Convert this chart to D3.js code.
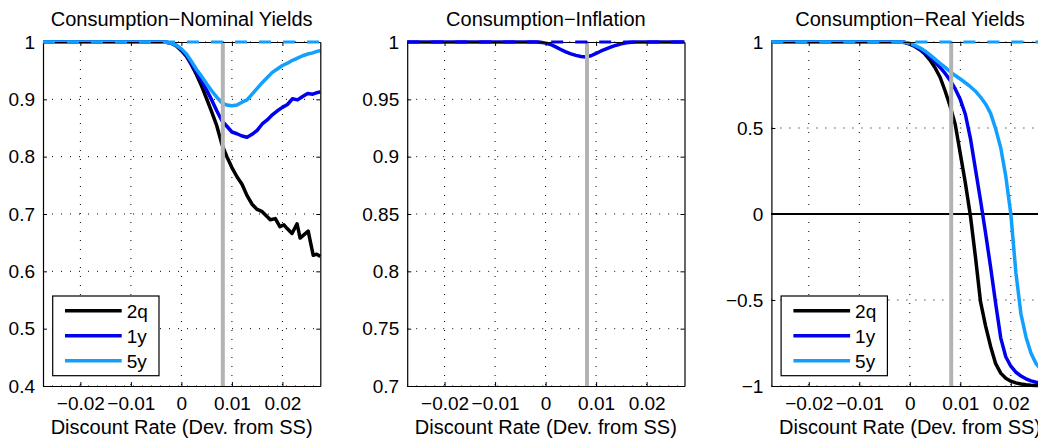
<!DOCTYPE html>
<html>
<head>
<meta charset="utf-8">
<script src="https://cdn.jsdelivr.net/npm/d3@7"></script>
<style>
body { margin: 0; background: #fff; }
text { font-family: "Liberation Sans", Arial, Helvetica, sans-serif; fill: #000; }
</style>
</head>
<body>
<script>
// shared x axis
var xDomain = [-0.0274, 0.0275];
var xTicks = [-0.02, -0.01, 0, 0.01, 0.02];
var xTickLabels = ["\u22120.02", "\u22120.01", "0", "0.01", "0.02"];
var steadyState = 0.0082;

var seriesNames = ["2q", "1y", "5y"];
var seriesColors = ["#000000", "#0000ee", "#12a0ff"];

// panel 1: nominal yields
var nomX = [-0.0274, -0.004, -0.003, -0.002, -0.001, 0, 0.001, 0.002, 0.003, 0.004, 0.005, 0.006, 0.007, 0.008, 0.009, 0.010, 0.011, 0.012, 0.013, 0.014, 0.015, 0.016, 0.017, 0.018, 0.019, 0.020, 0.021, 0.022, 0.023, 0.024, 0.025, 0.026, 0.027, 0.0275];
var nom1y = [1, 1, 0.9995, 0.998, 0.994, 0.987, 0.977, 0.962, 0.947, 0.932, 0.916, 0.899, 0.880, 0.863, 0.853, 0.843, 0.840, 0.836, 0.834, 0.839, 0.846, 0.857, 0.864, 0.873, 0.880, 0.886, 0.891, 0.901, 0.899, 0.905, 0.910, 0.909, 0.912, 0.913];
var nom5y = [1, 1, 0.9995, 0.998, 0.994, 0.988, 0.979, 0.966, 0.952, 0.940, 0.927, 0.915, 0.904, 0.894, 0.890, 0.889, 0.890, 0.895, 0.899, 0.909, 0.919, 0.929, 0.938, 0.947, 0.953, 0.959, 0.963, 0.968, 0.972, 0.976, 0.979, 0.981, 0.984, 0.985];
var nom2qX = [-0.0274, -0.004, -0.003, -0.002, -0.001, 0, 0.001, 0.002, 0.003, 0.004, 0.005, 0.006, 0.007, 0.008, 0.009, 0.010, 0.011, 0.012, 0.013, 0.014, 0.015, 0.016, 0.0168, 0.0176, 0.0186, 0.0195, 0.0203, 0.0209, 0.0219, 0.0229, 0.0235, 0.0243, 0.0251, 0.0261, 0.0268, 0.0275];
var nom2q = [1, 1, 0.9995, 0.998, 0.993, 0.985, 0.975, 0.960, 0.943, 0.923, 0.901, 0.878, 0.854, 0.822, 0.800, 0.781, 0.765, 0.752, 0.732, 0.717, 0.708, 0.704, 0.697, 0.690, 0.692, 0.678, 0.681, 0.675, 0.666, 0.683, 0.658, 0.664, 0.670, 0.628, 0.630, 0.626];
var nomTicks = [0.4, 0.5, 0.6, 0.7, 0.8, 0.9, 1];
var nomTickLabels = ["0.4", "0.5", "0.6", "0.7", "0.8", "0.9", "1"];

// panel 2: inflation
var infX = [-0.0274, -0.002, -0.001, 0, 0.001, 0.002, 0.003, 0.004, 0.005, 0.006, 0.007, 0.008, 0.009, 0.010, 0.011, 0.012, 0.013, 0.014, 0.015, 0.016, 0.017, 0.018, 0.0275];
var inf1y = [1, 1, 0.9998, 0.9990, 0.9978, 0.9957, 0.9935, 0.9914, 0.9897, 0.9883, 0.9873, 0.9870, 0.9880, 0.9900, 0.9922, 0.9940, 0.9957, 0.9972, 0.9984, 0.9993, 0.9998, 1, 1];
var infTicks = [0.7, 0.75, 0.8, 0.85, 0.9, 0.95, 1];
var infTickLabels = ["0.7", "0.75", "0.8", "0.85", "0.9", "0.95", "1"];

// panel 3: real yields
var realX = [-0.0274, -0.002, -0.001, 0, 0.001, 0.002, 0.003, 0.004, 0.005, 0.006, 0.007, 0.008, 0.009, 0.010, 0.011, 0.012, 0.013, 0.014, 0.015, 0.016, 0.017, 0.018, 0.019, 0.020, 0.021, 0.022, 0.023, 0.024, 0.025, 0.026, 0.027, 0.0275];
var real2q = [1, 1, 0.997, 0.988, 0.974, 0.955, 0.930, 0.895, 0.850, 0.795, 0.715, 0.625, 0.520, 0.350, 0.180, -0.010, -0.25, -0.51, -0.65, -0.77, -0.87, -0.925, -0.955, -0.972, -0.982, -0.988, -0.992, -0.995, -0.997, -0.998, -0.999, -0.999];
var real1y = [1, 1, 0.998, 0.990, 0.977, 0.960, 0.938, 0.912, 0.884, 0.852, 0.817, 0.777, 0.727, 0.665, 0.580, 0.440, 0.260, 0.080, -0.11, -0.31, -0.52, -0.72, -0.83, -0.885, -0.92, -0.942, -0.958, -0.970, -0.978, -0.984, -0.988, -0.99];
var real5y = [1, 1, 0.998, 0.992, 0.980, 0.966, 0.948, 0.925, 0.900, 0.876, 0.852, 0.827, 0.805, 0.785, 0.763, 0.740, 0.714, 0.680, 0.640, 0.585, 0.495, 0.385, 0.220, 0.0, -0.34, -0.58, -0.715, -0.81, -0.87, -0.905, -0.93, -0.94];
var realTicks = [-1, -0.5, 0, 0.5, 1];
var realTickLabels = ["\u22121", "\u22120.5", "0", "0.5", "1"];

var panels = [
  { title: "Consumption\u2212Nominal Yields", yDomain: [0.4, 1], yTicks: nomTicks, yLabels: nomTickLabels,
    series: [[nom2qX, nom2q, 0], [nomX, nom1y, 1], [nomX, nom5y, 2]], dash: seriesColors[2], legend: true, zero: false },
  { title: "Consumption\u2212Inflation", yDomain: [0.7, 1], yTicks: infTicks, yLabels: infTickLabels,
    series: [[infX, inf1y, 1]], dash: seriesColors[1], legend: false, zero: false },
  { title: "Consumption\u2212Real Yields", yDomain: [-1, 1], yTicks: realTicks, yLabels: realTickLabels,
    series: [[realX, real2q, 0], [realX, real1y, 1], [realX, real5y, 2]], dash: seriesColors[2], legend: true, zero: true }
];

var svg = d3.select("body").append("svg")
  .attr("width", 1038)
  .attr("height", 438)
  .style("background-color", "white");

var plotW = 277.3, plotH = 344, plotTop = 42;

panels.forEach(function(p, i) {
  var plotLeft = 43 + i * 364.2;
  var x = d3.scaleLinear().domain(xDomain).range([0, plotW]);
  var y = d3.scaleLinear().domain(p.yDomain).range([plotH, 0]);
  var g = svg.append("g").attr("transform", "translate(" + plotLeft + "," + plotTop + ")");

  g.append("clipPath").attr("id", "clip" + i)
    .append("rect").attr("x", -2).attr("y", -2).attr("width", plotW + 4).attr("height", plotH + 4);

  // dotted grid
  g.append("g").selectAll("line").data(xTicks).join("line")
    .attr("x1", d => x(d)).attr("x2", d => x(d)).attr("y1", 0).attr("y2", plotH)
    .attr("stroke", "#000").attr("stroke-width", 1).attr("stroke-dasharray", "1,8");
  g.append("g").selectAll("line").data(p.yTicks).join("line")
    .attr("x1", 0).attr("x2", plotW).attr("y1", d => y(d)).attr("y2", d => y(d))
    .attr("stroke", "#000").attr("stroke-width", 1).attr("stroke-dasharray", "1,8");

  if (p.zero) {
    g.append("line").attr("x1", 0).attr("x2", plotW).attr("y1", y(0)).attr("y2", y(0))
      .attr("stroke", "#000").attr("stroke-width", 1.2).attr("shape-rendering", "crispEdges");
  }

  var line = d3.line().x(d => x(d[0])).y(d => y(d[1]));
  p.series.forEach(function(s) {
    g.append("path")
      .datum(d3.zip(s[0], s[1]))
      .attr("d", line)
      .attr("fill", "none")
      .attr("stroke", seriesColors[s[2]])
      .attr("stroke-width", 3.5)
      .attr("stroke-linejoin", "round")
      .attr("clip-path", "url(#clip" + i + ")");
  });

  // steady state marker
  g.append("line").attr("x1", x(steadyState)).attr("x2", x(steadyState)).attr("y1", 0).attr("y2", plotH)
    .attr("stroke", "#b3b3b3").attr("stroke-width", 4);

  // axes on all four sides, ticks pointing in
  var bottom = g.append("g").attr("transform", "translate(0," + plotH + ")")
    .call(d3.axisBottom(x).tickValues(xTicks).tickFormat((d, k) => xTickLabels[k])
      .tickSizeInner(-4).tickSizeOuter(0).tickPadding(11));
  var topAx = g.append("g")
    .call(d3.axisTop(x).tickValues(xTicks).tickFormat("").tickSizeInner(-4).tickSizeOuter(0));
  var leftAx = g.append("g")
    .call(d3.axisLeft(y).tickValues(p.yTicks).tickFormat((d, k) => p.yLabels[k])
      .tickSizeInner(-4).tickSizeOuter(0).tickPadding(8));
  var rightAx = g.append("g").attr("transform", "translate(" + plotW + ",0)")
    .call(d3.axisRight(y).tickValues(p.yTicks).tickFormat("").tickSizeInner(-4).tickSizeOuter(0));
  [bottom, topAx, leftAx, rightAx].forEach(function(a) {
    a.attr("font-family", null).attr("font-size", null);
    a.select(".domain").attr("stroke", "#000").attr("stroke-width", 1.2);
    a.selectAll(".tick line").attr("stroke", "#000");
    a.selectAll("text").style("font-size", "19px");
  });

  // dashed reference at 1
  g.append("line").attr("x1", 0).attr("x2", plotW).attr("y1", y(1)).attr("y2", y(1))
    .attr("stroke", p.dash).attr("stroke-width", 3).attr("stroke-dasharray", "12,12");

  g.append("text").attr("x", plotW / 2).attr("y", 26 - plotTop).attr("text-anchor", "middle")
    .style("font-size", "20px").text(p.title);
  g.append("text").attr("x", plotW / 2).attr("y", 434 - plotTop).attr("text-anchor", "middle")
    .style("font-size", "20px").text("Discount Rate (Dev. from SS)");

  if (p.legend) {
    var lg = g.append("g").attr("transform", "translate(9.7," + (296 - plotTop) + ")");
    lg.append("rect").attr("width", 106.3).attr("height", 79.7)
      .attr("fill", "#fff").attr("stroke", "#000").attr("stroke-width", 1.2);
    seriesNames.forEach(function(name, k) {
      var ly = 14.7 + k * 25;
      lg.append("line").attr("x1", 12.3).attr("x2", 69).attr("y1", ly).attr("y2", ly)
        .attr("stroke", seriesColors[k]).attr("stroke-width", 3.5);
      lg.append("text").attr("x", 74).attr("y", ly + 7).style("font-size", "19px").text(name);
    });
  }
});
</script>
</body>
</html>
